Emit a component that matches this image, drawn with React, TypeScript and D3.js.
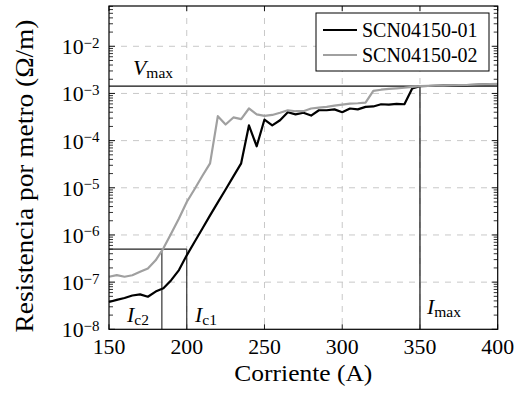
import React from "react";
import * as d3 from "d3";

const current = [150,155,160,165,170,175,180,185,190,195,200,205,210,215,220,225,230,235,240,245,250,255,260,265,270,275,280,285,290,295,300,305,310,315,320,325,330,335,340,345,350,355,360,365,370,375,380,385,390,395,400];
const r01 = [3.8e-8,4.2e-8,4.6e-8,5.2e-8,5.5e-8,4.9e-8,6.3e-8,7.4e-8,1.1e-7,1.8e-7,3.7e-7,7.1e-7,1.35e-6,2.6e-6,4.9e-6,9.2e-6,1.75e-5,3.3e-5,2.1e-4,7.6e-5,2.8e-4,2.1e-4,2.7e-4,4.0e-4,3.6e-4,3.9e-4,3.4e-4,4.4e-4,4.4e-4,4.6e-4,4.0e-4,4.8e-4,4.6e-4,5.2e-4,5.3e-4,5.9e-4,5.8e-4,6.0e-4,5.9e-4,1.28e-3,1.43e-3,1.44e-3,1.45e-3,1.46e-3,1.47e-3,1.48e-3,1.5e-3,1.52e-3,1.54e-3,1.56e-3,1.58e-3];
const r02 = [1.3e-7,1.41e-7,1.3e-7,1.4e-7,1.66e-7,1.95e-7,2.9e-7,5.2e-7,1.07e-6,2.24e-6,5.0e-6,9.3e-6,1.78e-5,3.3e-5,3.3e-4,2.2e-4,3.1e-4,2.85e-4,4.8e-4,3.6e-4,3.35e-4,3.5e-4,3.9e-4,4.4e-4,4.2e-4,4.2e-4,4.8e-4,5.0e-4,5.2e-4,5.5e-4,5.8e-4,6.1e-4,6.2e-4,6.4e-4,1.13e-3,1.2e-3,1.25e-3,1.28e-3,1.32e-3,1.38e-3,1.43e-3,1.45e-3,1.46e-3,1.47e-3,1.48e-3,1.5e-3,1.51e-3,1.53e-3,1.55e-3,1.57e-3,1.59e-3];
const seriesNames = ["SCN04150-01", "SCN04150-02"];
const xTicks = [150, 200, 250, 300, 350, 400];
const yExps = [-8, -7, -6, -5, -4, -3, -2];
const vMax = 1.43e-3;
const iMax = 350;
const iC1 = 200;
const iC2 = 184;
const vC = 5e-7;

const FONT = '"Liberation Serif", "DejaVu Serif", serif';

export default function App() {
  const L = 109, R = 497.7, T = 6, B = 329.3;
  const x = d3.scaleLinear().domain([150, 400]).range([L, R]);
  const y = d3.scaleLog().domain([1e-8, Math.pow(10, -1.146)]).range([B, T]);
  const line = d3.line<number>().x((_, i) => x(current[i])).y((d) => y(d));

  const minor: number[] = [];
  for (let e = -8; e <= -2; e++) {
    for (let k = 2; k <= 9; k++) {
      const v = k * Math.pow(10, e);
      if (v < y.domain()[1]) minor.push(v);
    }
  }
  const gridColor = "#c8c8c8";
  const colors = ["#000000", "#a0a0a0"];
  const data = [r01, r02];
  const ts = { fontFamily: FONT, fontWeight: 400 } as React.CSSProperties;

  return (
    <svg width={523} height={396} style={{ position: "absolute", left: 0, top: 0, fontFamily: FONT }}>
      <rect width={523} height={396} fill="#fff" />
      {xTicks.slice(1, -1).map((t) => (
        <line key={"gx" + t} x1={x(t)} x2={x(t)} y1={T} y2={B} stroke={gridColor} strokeWidth={1} strokeDasharray="6,6" />
      ))}
      {yExps.slice(1).map((e) => (
        <line key={"gy" + e} x1={L} x2={R} y1={y(Math.pow(10, e))} y2={y(Math.pow(10, e))} stroke={gridColor} strokeWidth={1} strokeDasharray="6,6" />
      ))}
      {minor.map((v, i) => (
        <g key={"mn" + i}>
          <line x1={L} x2={L + 4} y1={y(v)} y2={y(v)} stroke="#000" strokeWidth={0.8} />
          <line x1={R} x2={R - 4} y1={y(v)} y2={y(v)} stroke="#000" strokeWidth={0.8} />
        </g>
      ))}
      {yExps.map((e) => (
        <g key={"mj" + e}>
          <line x1={L} x2={L + 6} y1={y(Math.pow(10, e))} y2={y(Math.pow(10, e))} stroke="#000" strokeWidth={0.9} />
          <line x1={R} x2={R - 6} y1={y(Math.pow(10, e))} y2={y(Math.pow(10, e))} stroke="#000" strokeWidth={0.9} />
        </g>
      ))}
      {xTicks.map((t) => (
        <g key={"xt" + t}>
          <line x1={x(t)} x2={x(t)} y1={B} y2={B - 5} stroke="#000" strokeWidth={0.9} />
          <line x1={x(t)} x2={x(t)} y1={T} y2={T + 5} stroke="#000" strokeWidth={0.9} />
        </g>
      ))}
      <line x1={L} x2={R} y1={y(vMax)} y2={y(vMax)} stroke="#111" strokeWidth={1.3} />
      <line x1={x(iMax)} x2={x(iMax)} y1={y(vMax)} y2={B} stroke="#333" strokeWidth={1.4} />
      <line x1={L} x2={x(iC1)} y1={y(vC)} y2={y(vC)} stroke="#222" strokeWidth={1.2} />
      <line x1={x(iC2)} x2={x(iC2)} y1={y(vC)} y2={B} stroke="#333" strokeWidth={1.2} />
      <line x1={x(iC1)} x2={x(iC1)} y1={y(vC)} y2={B} stroke="#333" strokeWidth={1.2} />
      {data.map((d, i) => (
        <path key={"s" + i} d={line(d) || ""} fill="none" stroke={colors[i]} strokeWidth={2.2} strokeLinejoin="round" />
      ))}
      <rect x={L} y={T} width={R - L} height={B - T} fill="none" stroke="#000" strokeWidth={1.2} />
      {xTicks.map((t) => (
        <text key={"xl" + t} x={x(t)} y={354} textAnchor="middle" fontSize={21.8} style={ts}>{t}</text>
      ))}
      {yExps.map((e) => (
        <text key={"yl" + e} x={99.5} y={y(Math.pow(10, e)) + 8} textAnchor="end" fontSize={21.8} style={ts}>
          10<tspan dy={-6.5} fontSize={15}>{"\u2212" + Math.abs(e)}</tspan>
        </text>
      ))}
      <text x={133} y={75} fontSize={21.8} style={ts}>
        <tspan fontStyle="italic">V</tspan><tspan fontSize={15.5} dy={3}>max</tspan>
      </text>
      <text x={127} y={321.5} fontSize={21.8} style={ts}>
        <tspan fontStyle="italic">I</tspan><tspan fontSize={15.5} dy={3}>c2</tspan>
      </text>
      <text x={195} y={321.5} fontSize={21.8} style={ts}>
        <tspan fontStyle="italic">I</tspan><tspan fontSize={15.5} dy={3}>c1</tspan>
      </text>
      <text x={427} y={313.5} fontSize={21.8} style={ts}>
        <tspan fontStyle="italic">I</tspan><tspan fontSize={15.5} dy={3}>max</tspan>
      </text>
      <text x={(L + R) / 2} y={381} textAnchor="middle" fontSize={24} style={ts} textLength={138} lengthAdjust="spacingAndGlyphs">Corriente (A)</text>
      <text transform="translate(33,176) rotate(-90)" textAnchor="middle" fontSize={24.5} style={ts} textLength={313} lengthAdjust="spacingAndGlyphs">Resistencia por metro (Ω/m)</text>
      <rect x={316} y={13} width={173} height={58} fill="#fff" stroke="#000" strokeWidth={1} />
      {seriesNames.map((n, i) => (
        <g key={"lg" + i}>
          <line x1={323} x2={357} y1={30 + i * 25} y2={30 + i * 25} stroke={colors[i]} strokeWidth={2.2} />
          <text x={362} y={36.5 + i * 25} fontSize={20} style={ts}>{n}</text>
        </g>
      ))}
    </svg>
  );
}
